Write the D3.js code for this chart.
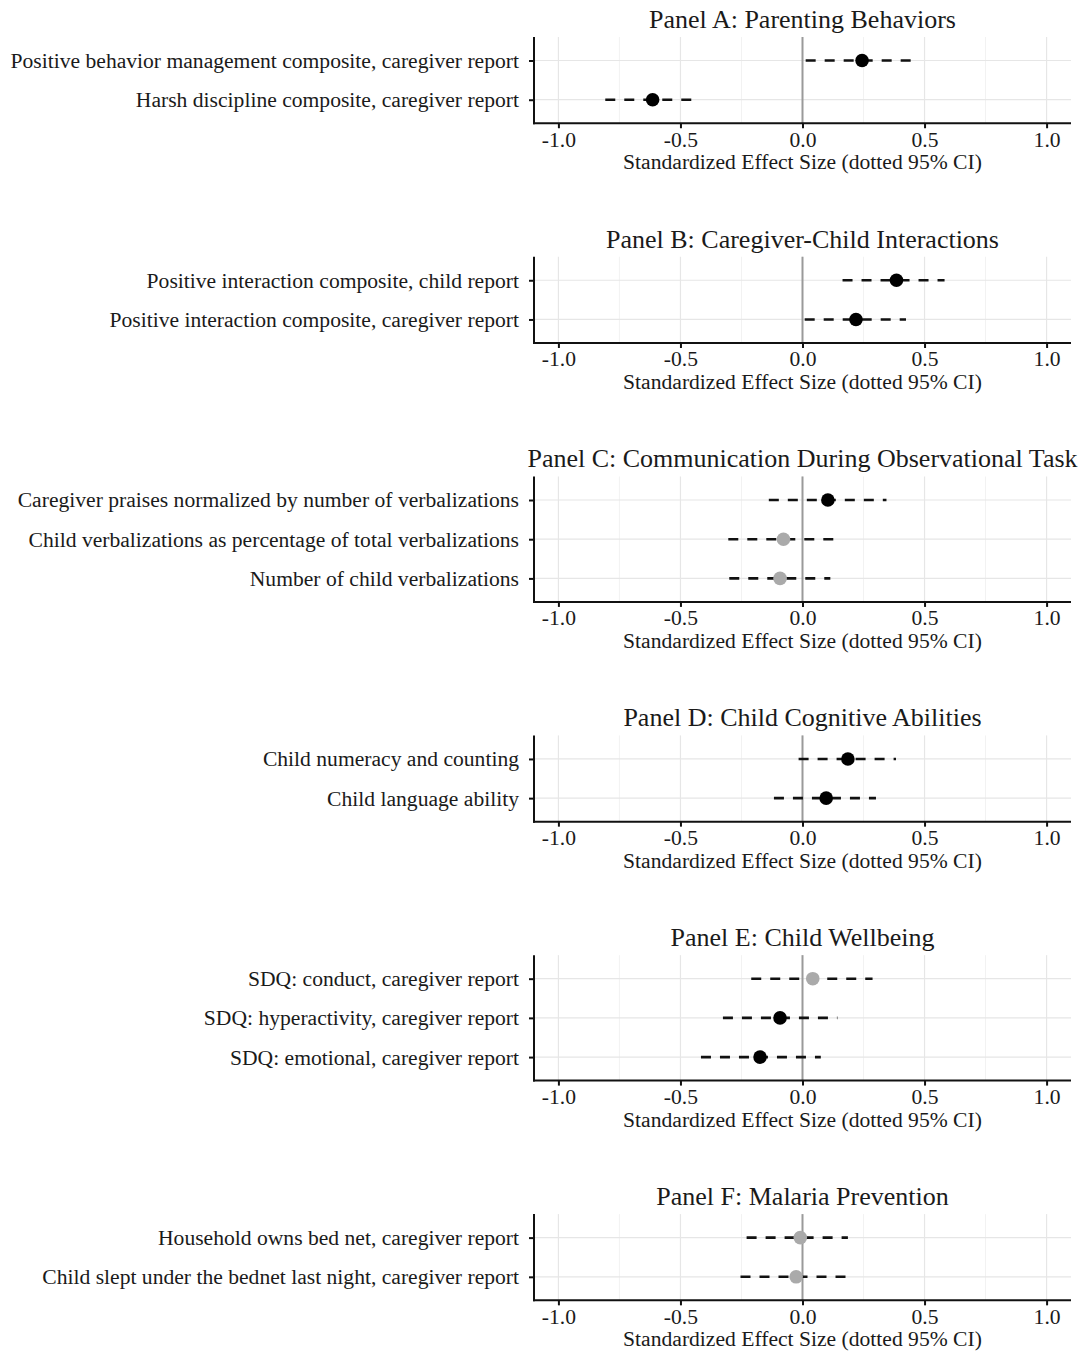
<!DOCTYPE html>
<html>
<head>
<meta charset="utf-8">
<script src="https://cdn.jsdelivr.net/npm/d3@7"></script>
<style>
  body { margin: 0; background: #fff; }
  svg text { font-family: "Liberation Serif", "Times New Roman", serif; fill: #1a1a1a; }
</style>
</head>
<body>
<svg id="chart" width="1079" height="1351"></svg>
<script>
// panel titles
const panelTitles = [
  'Panel A: Parenting Behaviors',
  'Panel B: Caregiver-Child Interactions',
  'Panel C: Communication During Observational Task',
  'Panel D: Child Cognitive Abilities',
  'Panel E: Child Wellbeing',
  'Panel F: Malaria Prevention'
];

// outcome labels per panel (top to bottom)
const outcomeLabels = [
  ['Positive behavior management composite, caregiver report', 'Harsh discipline composite, caregiver report'],
  ['Positive interaction composite, child report', 'Positive interaction composite, caregiver report'],
  ['Caregiver praises normalized by number of verbalizations', 'Child verbalizations as percentage of total verbalizations', 'Number of child verbalizations'],
  ['Child numeracy and counting', 'Child language ability'],
  ['SDQ: conduct, caregiver report', 'SDQ: hyperactivity, caregiver report', 'SDQ: emotional, caregiver report'],
  ['Household owns bed net, caregiver report', 'Child slept under the bednet last night, caregiver report']
];

// point estimates
const estimates = [
  [0.244, -0.614],
  [0.385, 0.219],
  [0.104, -0.078, -0.092],
  [0.186, 0.097],
  [0.042, -0.092, -0.174],
  [-0.009, -0.026]
];

// lower 95% CI
const ciLow = [
  [0.013, -0.808],
  [0.164, 0.009],
  [-0.138, -0.304, -0.300],
  [-0.016, -0.117],
  [-0.210, -0.326, -0.416],
  [-0.229, -0.254]
];

// upper 95% CI
const ciHigh = [
  [0.474, -0.419],
  [0.582, 0.424],
  [0.344, 0.150, 0.114],
  [0.383, 0.301],
  [0.287, 0.143, 0.075],
  [0.186, 0.200]
];

// significant at 5%? (black vs grey dot)
const significant = [
  [true, true],
  [true, true],
  [true, false, false],
  [true, true],
  [false, true, true],
  [false, false]
];

const xTicks = [-1.0, -0.5, 0.0, 0.5, 1.0];
const xMinor = [-0.75, -0.25, 0.25, 0.75];
const xTitle = 'Standardized Effect Size (dotted 95% CI)';

const svg = d3.select('#chart');
const left = 534, right = 1071;
const rowStep = 39.2;
const panelGap = 133.5;
const labelSize = '21.6px';

const x = d3.scaleLinear().domain([-1.1, 1.1]).range([left, right]);
const fmt = d => d.toFixed(1); // plain hyphen minus like the original

let panelTop = 37;
panelTitles.forEach((title, p) => {
  const labels = outcomeLabels[p];
  const n = labels.length;
  const h = (n - 1 + 1.2) * rowStep;
  const pTop = panelTop;
  const bottom = pTop + h;
  const y = d3.scalePoint().domain(labels).range([pTop, bottom]).padding(0.6);

  const g = svg.append('g');

  // minor grid
  g.selectAll('.minor').data(xMinor).enter().append('line')
    .attr('x1', d => x(d)).attr('x2', d => x(d))
    .attr('y1', pTop).attr('y2', bottom)
    .attr('stroke', '#f2f2f2').attr('stroke-width', 1);
  // major grid
  g.selectAll('.major').data(xTicks).enter().append('line')
    .attr('x1', d => x(d)).attr('x2', d => x(d))
    .attr('y1', pTop).attr('y2', bottom)
    .attr('stroke', '#e6e6e6').attr('stroke-width', 1.2);
  g.selectAll('.hgrid').data(labels).enter().append('line')
    .attr('x1', left).attr('x2', right)
    .attr('y1', d => y(d)).attr('y2', d => y(d))
    .attr('stroke', '#e6e6e6').attr('stroke-width', 1.2);

  // zero reference line
  g.append('line')
    .attr('x1', x(0)).attr('x2', x(0))
    .attr('y1', pTop).attr('y2', bottom)
    .attr('stroke', '#9a9a9a').attr('stroke-width', 2);

  const rows = labels.map((l, i) => ({
    label: l, est: estimates[p][i], lo: ciLow[p][i], hi: ciHigh[p][i], sig: significant[p][i]
  }));

  // CI dashed lines
  g.selectAll('.ci').data(rows).enter().append('line')
    .attr('x1', d => x(d.lo)).attr('x2', d => x(d.hi))
    .attr('y1', d => y(d.label)).attr('y2', d => y(d.label))
    .attr('stroke', '#111').attr('stroke-width', 2.6)
    .attr('stroke-dasharray', '10,9');

  // points
  g.selectAll('.dot').data(rows).enter().append('circle')
    .attr('cx', d => x(d.est)).attr('cy', d => y(d.label))
    .attr('r', 6.8)
    .attr('fill', d => d.sig ? '#000' : '#aaaaaa');

  // axes
  const xAxis = g.append('g')
    .attr('transform', 'translate(0,' + bottom + ')')
    .call(d3.axisBottom(x).tickValues(xTicks).tickFormat(fmt).tickSize(5).tickPadding(3));
  xAxis.select('.domain').attr('stroke', '#111').attr('stroke-width', 2)
    .attr('d', 'M' + (left - 1) + ',0H' + right);
  xAxis.selectAll('.tick line').attr('stroke', '#111').attr('stroke-width', 2);
  xAxis.selectAll('.tick text')
    .style('font-family', '"Liberation Serif", serif')
    .style('font-size', labelSize).attr('fill', '#1a1a1a');

  const yAxis = g.append('g')
    .attr('transform', 'translate(' + left + ',0)')
    .call(d3.axisLeft(y).tickSize(5).tickPadding(10));
  yAxis.select('.domain').attr('stroke', '#111').attr('stroke-width', 2)
    .attr('d', 'M0,' + pTop + 'V' + (bottom + 1));
  yAxis.selectAll('.tick line').attr('stroke', '#111').attr('stroke-width', 2);
  yAxis.selectAll('.tick text')
    .style('font-family', '"Liberation Serif", serif')
    .style('font-size', labelSize).attr('fill', '#1a1a1a');

  // titles
  g.append('text')
    .attr('x', (left + right) / 2).attr('y', pTop - 9)
    .attr('text-anchor', 'middle')
    .style('font-size', '26px')
    .text(title);

  g.append('text')
    .attr('x', (left + right) / 2).attr('y', bottom + 46)
    .attr('text-anchor', 'middle')
    .style('font-size', labelSize)
    .text(xTitle);

  panelTop = bottom + panelGap;
});
</script>
</body>
</html>
